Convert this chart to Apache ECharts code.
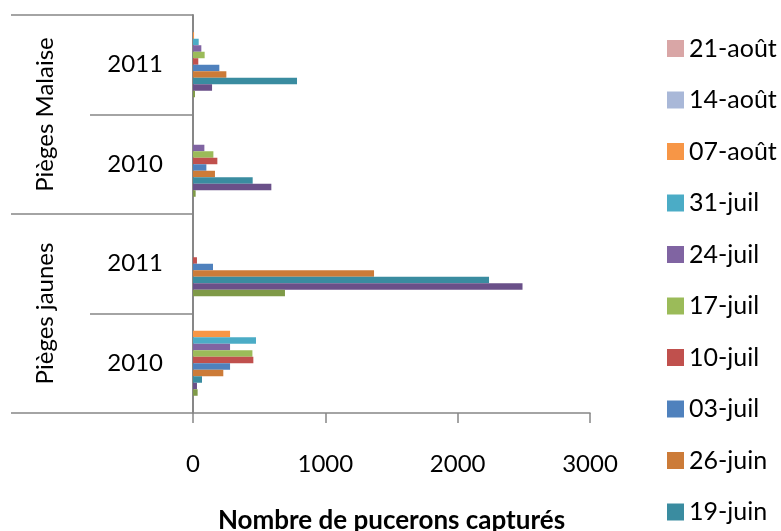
<!DOCTYPE html>
<html>
<head>
<meta charset="utf-8">
<script src="https://cdn.jsdelivr.net/npm/echarts@6/dist/echarts.min.js"></script>
<style>html,body{margin:0;padding:0;background:#fff}#c{width:781px;height:531px}</style>
</head>
<body>
<div id="c"></div>
<script>
// categories, top to bottom
const years = ['2011', '2010', '2011', '2010'];
const trapTypes = ['Pièges Malaise', 'Pièges jaunes'];
const xTicks = [0, 1000, 2000, 3000];
const xTitle = 'Nombre de pucerons capturés';

// series (top bar to bottom bar in each group)
const seriesNames = ['21-août', '14-août', '07-août', '31-juil', '24-juil', '17-juil', '10-juil', '03-juil', '26-juin', '19-juin', '12-juin', '05-juin', '29-mai', '22-mai'];
const legendShown = ['21-août', '14-août', '07-août', '31-juil', '24-juil', '17-juil', '10-juil', '03-juil', '26-juin', '19-juin'];
// values per category: [Malaise 2011, Malaise 2010, Jaunes 2011, Jaunes 2010]
const v21aout = [0, 0, 0, 0];
const v14aout = [0, 0, 0, 0];
const v07aout = [8, 0, 0, 280];
const v31juil = [43, 0, 0, 476];
const v24juil = [63, 86, 0, 280];
const v17juil = [88, 154, 0, 449];
const v10juil = [40, 184, 30, 456];
const v03juil = [199, 101, 151, 280];
const v26juin = [252, 166, 1368, 229];
const v19juin = [786, 451, 2237, 68];
const v12juin = [144, 592, 2490, 30];
const v05juin = [15, 20, 695, 35];
const v29mai = [0, 0, 0, 0];
const v22mai = [0, 0, 0, 0];
const seriesValues = [v21aout, v14aout, v07aout, v31juil, v24juil, v17juil, v10juil, v03juil, v26juin, v19juin, v12juin, v05juin, v29mai, v22mai];
const colors = ['#D9A6A6', '#A9B8D8', '#F79646', '#4BACC6', '#8064A2', '#9BBB59', '#C0504D', '#4F81BD', '#CC7B38', '#3A8CA0', '#6A5089', '#7F9A48', '#9A3E3B', '#3C6496'];

const FONT = 'Lato, "Open Sans", sans-serif';
const AX = '#878787';
const FS = 24;

const chart = echarts.init(document.getElementById('c'), null, {renderer: 'canvas'});
chart.setOption({
  animation: false,
  color: colors,
  textStyle: {fontFamily: FONT},
  grid: {left: 193, right: 191, top: 15, bottom: 118, outerBoundsMode: 'none'},
  legend: {
    data: legendShown,
    orient: 'vertical',
    left: 662,
    top: 31,
    width: 119,
    height: 700,
    itemWidth: 17,
    itemHeight: 17,
    itemGap: 26.5,
    icon: 'rect',
    textStyle: {fontFamily: FONT, fontSize: 25, color: '#000'}
  },
  xAxis: {
    type: 'value',
    min: 0, max: 3000, interval: 1000,
    name: xTitle,
    nameLocation: 'middle',
    nameGap: 95,
    nameTextStyle: {fontFamily: FONT, fontSize: 26, fontWeight: 'bold', color: '#000'},
    axisLine: {show: true, lineStyle: {color: AX, width: 1.5}},
    axisTick: {show: true, length: 10, lineStyle: {color: AX, width: 1.5}},
    splitLine: {show: false},
    axisLabel: {margin: 39, fontFamily: FONT, fontSize: FS, color: '#000',
      formatter: v => xTicks.indexOf(v) >= 0 ? String(v) : ''}
  },
  yAxis: [
    {
      type: 'category',
      inverse: true,
      data: years,
      position: 'left',
      axisLine: {show: true, lineStyle: {color: AX, width: 2}},
      axisTick: {show: true, length: 103, interval: 0, lineStyle: {color: AX, width: 1.5}},
      axisLabel: {interval: 0, margin: 30, fontFamily: FONT, fontSize: FS, color: '#000'}
    },
    {
      type: 'category',
      inverse: true,
      data: trapTypes,
      position: 'left',
      offset: 0,
      axisLine: {show: false},
      axisTick: {show: true, length: 182, interval: 0, lineStyle: {color: AX, width: 1.5}},
      axisLabel: {interval: 0, hideOverlap: false, rotate: 90, margin: 148, fontFamily: FONT, fontSize: FS, color: '#000', align: 'center', verticalAlign: 'middle'}
    }
  ],
  series: seriesNames.map((n, i) => ({
    name: n,
    type: 'bar',
    yAxisIndex: 0,
    data: seriesValues[i],
    barGap: '0%',
    barCategoryGap: '8.5%',
    itemStyle: {color: colors[i]}
  }))
});
</script>
</body>
</html>
